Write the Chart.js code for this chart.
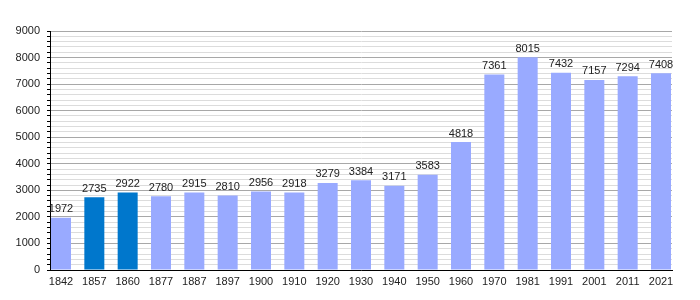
<!DOCTYPE html>
<html>
<head>
<meta charset="utf-8">
<script src="https://cdn.jsdelivr.net/npm/chart.js@4/dist/chart.umd.min.js"></script>
<style>
  html, body { margin: 0; padding: 0; background: #fff; }
  canvas { display: block; }
</style>
</head>
<body>
<canvas id="myChart" width="700" height="300"></canvas>
<script>
// Daten --------------------------------------------------------------
const years = ['1842', '1857', '1860', '1877', '1887', '1897', '1900', '1910', '1920', '1930',
               '1940', '1950', '1960', '1970', '1981', '1991', '2001', '2011', '2021'];
const population = [1972, 2735, 2922, 2780, 2915, 2810, 2956, 2918, 3279, 3384,
                    3171, 3583, 4818, 7361, 8015, 7432, 7157, 7294, 7408];
const highlighted = ['1857', '1860']; // dunkler dargestellte Jahre
const yTicks = [0, 1000, 2000, 3000, 4000, 5000, 6000, 7000, 8000, 9000];
// --------------------------------------------------------------------

const lightBlue = '#99aaff';
const darkBlue = '#0077cc';

const points = population.map((v, i) => ({ x: i, y: v }));
const colors = years.map(y => highlighted.includes(y) ? darkBlue : lightBlue);

// Zahlen über den Balken
const valueLabels = {
    id: 'valueLabels',
    afterDatasetsDraw(chart) {
        const ctx = chart.ctx;
        const meta = chart.getDatasetMeta(0);
        ctx.save();
        ctx.font = '11px "Liberation Sans", Arial, sans-serif';
        ctx.fillStyle = '#222';
        ctx.textAlign = 'center';
        ctx.textBaseline = 'bottom';
        meta.data.forEach((bar, i) => {
            ctx.fillText(String(population[i]), bar.x, bar.y - 3);
        });
        ctx.restore();
    }
};

const ctx = document.getElementById('myChart').getContext('2d');
const myChart = new Chart(ctx, {
    type: 'bar',
    data: {
        datasets: [{
            data: points,
            backgroundColor: colors,
            borderWidth: 0,
            categoryPercentage: 1,
            barPercentage: 0.6
        }]
    },
    options: {
        responsive: false,
        animation: false,
        layout: { padding: { top: 31, right: 28, left: 0, bottom: 0 } },
        scales: {
            x: {
                type: 'linear',
                offset: false,
                min: -0.33,
                max: 18.33,
                afterBuildTicks: scale => { scale.ticks = years.map((y, i) => ({ value: i })); },
                afterFit: scale => { scale.height = 30; },
                grid: { display: false, drawTicks: false },
                border: { display: true, color: '#000', width: 1 },
                ticks: {
                    autoSkip: false,
                    maxRotation: 0,
                    padding: 5,
                    color: '#222',
                    font: { family: '"Liberation Sans", Arial, sans-serif', size: 11 },
                    callback: v => years[v]
                }
            },
            y: {
                min: 0,
                max: 9000,
                afterFit: scale => { scale.width = 50; },
                grid: {
                    // große Linien alle 1000, kleine alle 200
                    color: c => (c.tick && c.tick.value % 1000 === 0) ? '#a8a8a8' : '#dcdcdc',
                    tickColor: '#000',
                    tickLength: 3,
                    lineWidth: 1
                },
                border: { display: true, color: '#000', width: 1 },
                ticks: {
                    stepSize: 200,
                    autoSkip: false,
                    padding: 7,
                    color: '#222',
                    font: { family: '"Liberation Sans", Arial, sans-serif', size: 11 },
                    callback: v => yTicks.includes(v) ? String(v) : ''
                }
            }
        },
        plugins: {
            legend: { display: false },
            tooltip: { enabled: false }
        }
    },
    plugins: [valueLabels]
});
</script>
</body>
</html>
